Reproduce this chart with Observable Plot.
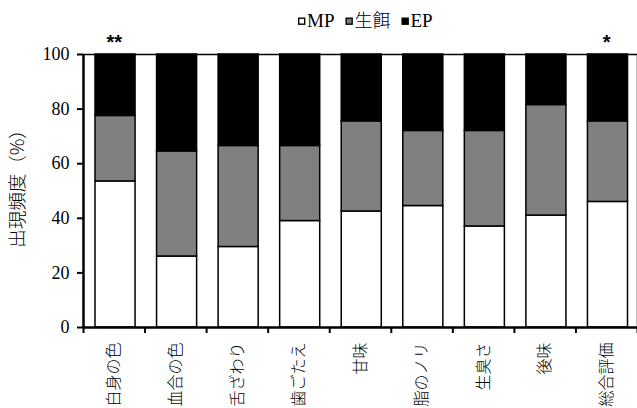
<!DOCTYPE html>
<html>
<head>
<meta charset="utf-8">
<script src="https://cdn.jsdelivr.net/npm/d3@7"></script>
<script src="https://cdn.jsdelivr.net/npm/@observablehq/plot@0.6"></script>
<style>
  html, body { margin: 0; padding: 0; background: #fff; }
  #legend svg, #chart svg { display: block; }
</style>
</head>
<body>
<div id="legend"></div>
<div id="chart"></div>
<script>
const categories = ["白身の色", "血合の色", "舌ざわり", "歯ごたえ", "甘味", "脂のノリ", "生臭さ", "後味", "総合評価"];
const mpValues    = [53.5, 26.0, 29.5, 39.0, 42.5, 44.5, 37.0, 41.0, 46.0];
const freshValues = [24.0, 38.5, 37.0, 27.5, 33.0, 27.5, 35.0, 40.5, 29.5];
const epValues    = [22.5, 35.5, 33.5, 33.5, 24.5, 28.0, 28.0, 18.5, 24.5];
const seriesNames = ["MP", "生餌", "EP"];
const seriesColors = ["#ffffff", "#808080", "#000000"];
const significance = ["**", "", "", "", "", "", "", "", "*"];
const yTicks = [0, 20, 40, 60, 80, 100];

const seriesValues = [mpValues, freshValues, epValues];
const rows = [];
categories.forEach((c, i) => {
  let acc = 0;
  seriesValues.forEach((vals, s) => {
    rows.push({idx: i, category: c, series: seriesNames[s], y1: acc, y2: acc + vals[i]});
    acc += vals[i];
  });
});
const marks = categories.map((c, i) => ({idx: i, text: significance[i]})).filter(d => d.text);

// legend (SVG, above the chart)
const lsvg = d3.select("#legend").append("svg").attr("width", 637).attr("height", 32);
let lx = 298;
seriesNames.forEach((name, s) => {
  lsvg.append("rect").attr("x", lx + 0.7).attr("y", 18.2).attr("width", 6).attr("height", 6)
    .attr("fill", seriesColors[s]).attr("stroke", "#000").attr("stroke-width", 1.4);
  lx += 9;
  const cjk = /[^\x00-\x7F]/.test(name);
  const t = lsvg.append("text").attr("x", lx).attr("y", 26.6).text(name)
    .attr("font-family", cjk ? "'Noto Sans CJK JP', sans-serif" : "'Liberation Serif', serif")
    .attr("font-weight", cjk ? 300 : 400)
    .attr("font-size", cjk ? 18 : 19).attr("fill", "#000");
  lx += t.node().getComputedTextLength() + 11;
});

const chart = Plot.plot({
  width: 637,
  height: 376,
  marginTop: 22,
  marginBottom: 81,
  marginLeft: 83,
  marginRight: 0,
  style: {fontFamily: "'Liberation Serif', serif", fontSize: "18px", color: "#000", background: "#fff"},
  x: {domain: [0, categories.length], axis: null},
  y: {domain: [0, 100], axis: null},
  color: {domain: seriesNames, range: seriesColors},
  marks: [
    Plot.rectY(rows, {x1: "idx", x2: d => d.idx + 1, y1: "y1", y2: "y2", fill: "series",
      stroke: "#000", strokeWidth: 1.5, insetLeft: 12, insetRight: 9.5}),
    Plot.ruleY([100], {stroke: "#000", strokeWidth: 1.5}),
    Plot.ruleX([categories.length], {stroke: "#000", strokeWidth: 1.5}),
    Plot.ruleY([0], {stroke: "#000", strokeWidth: 2.5}),
    Plot.ruleX([0], {stroke: "#000", strokeWidth: 2.5}),
    Plot.axisY({ticks: yTicks, tickSize: 6, tickPadding: 8, strokeWidth: 2, label: null,
      fontSize: 18, fontFamily: "'Liberation Serif', serif"}),
    Plot.axisX({ticks: d3.range(categories.length + 1), tickFormat: () => "", tickSize: 6, strokeWidth: 2, label: null}),
    Plot.axisX({ticks: d3.range(categories.length).map(i => i + 0.5), tickFormat: v => categories[Math.round(v - 0.5)],
      tickSize: 0, tickPadding: 15, tickRotate: -90, label: null, fontSize: 16,
      fontFamily: "'Noto Sans CJK JP', sans-serif", fontWeight: 300}),
    Plot.text(marks, {x: d => d.idx + 0.5, y: () => 100, text: "text", dy: -11.5, fontSize: 20, fontWeight: "bold",
      fontFamily: "'Liberation Sans', sans-serif"}),
    Plot.text(["出現頻度（%）"], {frameAnchor: "left", textAnchor: "middle", lineAnchor: "middle", dx: -65, dy: -7, rotate: -90, fontSize: 18.5,
      fontFamily: "'Noto Sans CJK JP', sans-serif", fontWeight: 300})
  ]
});
document.getElementById("chart").appendChild(chart);
</script>
</body>
</html>
